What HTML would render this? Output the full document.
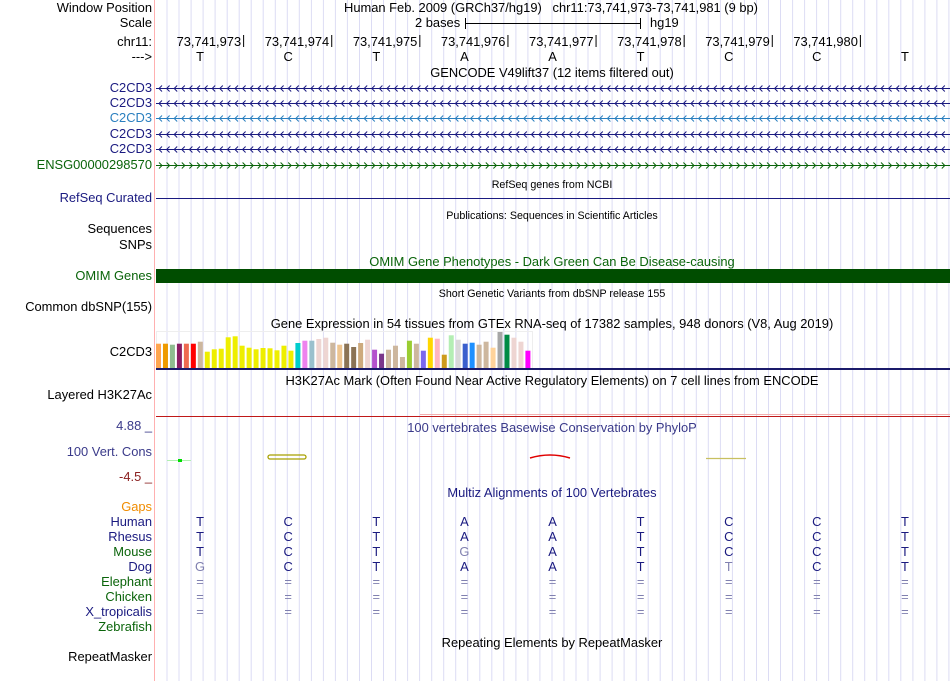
<!DOCTYPE html>
<html><head><meta charset="utf-8"><style>
body{margin:0;width:950px;height:681px;overflow:hidden;background:#fff;font-family:"Liberation Sans",sans-serif;}
#root{position:relative;width:950px;height:681px;overflow:hidden;}
.t{position:absolute;white-space:nowrap;font-size:12.9px;line-height:14px;}
.lab{position:absolute;right:798px;white-space:nowrap;font-size:12.9px;line-height:14px;text-align:right;}
.small{font-size:10.7px;}
.c{transform:translateX(-50%);}
</style></head><body>
<div id="root">
<svg id="grid" width="950" height="681" style="position:absolute;left:0;top:0"></svg>

<div class="lab" style="top:1px;color:#000">Window Position</div>
<div class="lab" style="top:16px">Scale</div>
<div class="lab" style="top:35px">chr11:</div>
<div class="lab" style="top:50px">---&gt;</div>
<div class="t c" style="left:551px;top:1px">Human Feb. 2009 (GRCh37/hg19) &nbsp;&nbsp;chr11:73,741,973-73,741,981 (9 bp)</div>
<div class="t" style="left:415px;top:16px">2 bases</div>
<div class="t" style="left:650px;top:16px">hg19</div>

<div class="t c" style="left:552px;top:66px">GENCODE V49lift37 (12 items filtered out)</div>
<div class="lab" style="top:81px;color:#1a1a80">C2CD3</div>
<div class="lab" style="top:96px;color:#1a1a80">C2CD3</div>
<div class="lab" style="top:111px;color:#2a7fbf">C2CD3</div>
<div class="lab" style="top:127px;color:#1a1a80">C2CD3</div>
<div class="lab" style="top:142px;color:#1a1a80">C2CD3</div>
<div class="lab" style="top:158px;color:#0a640a">ENSG00000298570</div>

<div class="t c small" style="left:552px;top:178px">RefSeq genes from NCBI</div>
<div class="lab" style="top:191px;color:#1a1a80">RefSeq Curated</div>
<div class="t c small" style="left:552px;top:209px">Publications: Sequences in Scientific Articles</div>
<div class="lab" style="top:222px">Sequences</div>
<div class="lab" style="top:238px">SNPs</div>
<div class="t c" style="left:552px;top:255px;color:#0a640a">OMIM Gene Phenotypes - Dark Green Can Be Disease-causing</div>
<div class="lab" style="top:269px;color:#0a640a">OMIM Genes</div>
<div style="position:absolute;left:156px;top:269px;width:794px;height:14px;background:#004d00"></div>
<div class="t c small" style="left:552px;top:287px">Short Genetic Variants from dbSNP release 155</div>
<div class="lab" style="top:300px">Common dbSNP(155)</div>
<div class="t c" style="left:552px;top:317px">Gene Expression in 54 tissues from GTEx RNA-seq of 17382 samples, 948 donors (V8, Aug 2019)</div>
<div class="lab" style="top:345px">C2CD3</div>
<div class="t c" style="left:552px;top:374px">H3K27Ac Mark (Often Found Near Active Regulatory Elements) on 7 cell lines from ENCODE</div>
<div class="lab" style="top:388px">Layered H3K27Ac</div>
<div class="lab" style="top:419px;color:#3a3a8a">4.88 _</div>
<div class="lab" style="top:445px;color:#3a3a8a">100 Vert. Cons</div>
<div class="lab" style="top:470px;color:#8b2020">-4.5 _</div>
<div class="t c" style="left:552px;top:421px;color:#3a3a8a">100 vertebrates Basewise Conservation by PhyloP</div>
<div class="t c" style="left:552px;top:486px;color:#1a1a80">Multiz Alignments of 100 Vertebrates</div>
<div class="lab" style="top:500px;color:#f08c00">Gaps</div>
<div id="species"></div>
<div class="t c" style="left:552px;top:636px">Repeating Elements by RepeatMasker</div>
<div class="lab" style="top:650px">RepeatMasker</div>
<svg id="fg" width="950" height="681" style="position:absolute;left:0;top:0"></svg>
</div>
<script>
const bases=['T','C','T','A','A','T','C','C','T'];
const positions=['73,741,973','73,741,974','73,741,975','73,741,976','73,741,977','73,741,978','73,741,979','73,741,980'];
const speciesNames=['Human','Rhesus','Mouse','Dog','Elephant','Chicken','X_tropicalis','Zebrafish'];
const speciesColors=['#1a1a80','#1a1a80','#0a640a','#1a1a80','#0a640a','#0a640a','#1a1a80','#0a640a'];
const mouseSeq=['T','C','T','G','A','T','C','C','T'];
const dogSeq=['G','C','T','A','A','T','T','C','T'];
const gtexValues=[24.3,24.3,23.3,24.3,24.3,24.3,26.3,16.3,18.7,19.3,30.7,31.7,22.3,20.3,18.7,20,19.7,17.7,22.3,17.3,25,27.3,27.3,29,30.3,25.3,23.3,24.3,21,25,28.3,18.3,14.3,18.3,22.3,11,27.3,24.3,17.3,30.3,29.3,13.3,32.7,28.3,24.3,25.3,23.3,26.3,20.3,36,33.3,30.3,26.3,17.3];
const gtexColors=['#FFA54F','#EE9A00','#8FBC8F','#8B1C62','#EE6A50','#FF0000','#CDB79E','#EEEE00','#EEEE00','#EEEE00','#EEEE00','#EEEE00','#EEEE00','#EEEE00','#EEEE00','#EEEE00','#EEEE00','#EEEE00','#EEEE00','#EEEE00','#00CDCD','#EE82EE','#9AC0CD','#EED5D2','#EED5D2','#CDB79E','#EEC591','#8B7355','#8B7355','#CDAA7D','#EED5D2','#B452CD','#7A378B','#CDB79E','#CDB79E','#CDB79E','#9ACD32','#CDB79E','#7A67EE','#FFD700','#FFB6C1','#CD9B1D','#B4EEB4','#D9D9D9','#3A5FCD','#1E90FF','#CDB79E','#CDB79E','#FFD39B','#A6A6A6','#008B45','#EED5D2','#EED5D2','#FF00FF'];
const NS='http://www.w3.org/2000/svg';
const L=156,R=949,bw=(R-L)/9;
const bx=i=>L+bw*(i+0.5);
function mk(p,tag,at){const e=document.createElementNS(NS,tag);for(const k in at)e.setAttribute(k,at[k]);p.appendChild(e);return e;}
const g=document.getElementById('grid'),f=document.getElementById('fg');
for(let x=167;x<950;x+=12.03){const l=mk(g,'line',{x1:x.toFixed(1),x2:x.toFixed(1),y1:0,y2:681,stroke:'#dcdcf4','stroke-width':1});

}
mk(g,'line',{x1:154.5,x2:154.5,y1:0,y2:681,stroke:'#ffb0b0','stroke-width':1});
mk(f,'line',{x1:465,x2:640,y1:23.5,y2:23.5,stroke:'#000'});
mk(f,'line',{x1:465.5,x2:465.5,y1:18,y2:29,stroke:'#000'});
mk(f,'line',{x1:640.5,x2:640.5,y1:18,y2:29,stroke:'#000'});
const root=document.getElementById('root');
positions.forEach((p,i)=>{const tx=L+bw*(i+1);
mk(f,'line',{x1:tx-0.5,x2:tx-0.5,y1:35,y2:47,stroke:'#000'});
const d=document.createElement('div');d.className='t';d.style.right=(950-tx+3)+'px';d.style.top='35px';d.textContent=p;


root.appendChild(d);});
bases.forEach((b,i)=>{const d=document.createElement('div');d.className='t c';d.style.left=bx(i)+'px';d.style.top='50px';d.textContent=b;


root.appendChild(d);});
const geneRows=[[88,'#1a1a80',-1],[103,'#1a1a80',-1],[118,'#2a7fbf',-1],[134,'#1a1a80',-1],[149,'#1a1a80',-1],[165,'#0a640a',1]];
geneRows.forEach(([y,c,dir])=>{const gg=mk(f,'g',{});


mk(gg,'line',{x1:L,x2:R+1,y1:y+.5,y2:y+.5,stroke:c});
let p='';for(let x=L+3;x<R;x+=7.6){if(dir<0)p+=`M${x+3},${y-2.5}L${x},${y+.5}L${x+3},${y+3.5}`;else p+=`M${x},${y-2.5}L${x+3},${y+.5}L${x},${y+3.5}`;}
mk(gg,'path',{d:p,stroke:c,fill:'none','stroke-width':1});});
mk(f,'line',{x1:L,x2:R+1,y1:198.5,y2:198.5,stroke:'#1a1a80'});
mk(f,'rect',{x:156.5,y:331.5,width:376,height:37,fill:'none',stroke:'#eeeeee'});
gtexValues.forEach((v,i)=>{const r=mk(f,'rect',{x:156+i*6.97,y:368-v,width:5,height:v,fill:gtexColors[i]});

});
mk(f,'rect',{x:156,y:368,width:794,height:2,fill:'#1a1a6a'});
mk(f,'line',{x1:156,x2:R+1,y1:416.5,y2:416.5,stroke:'#c01818'});
mk(f,'line',{x1:420,x2:R+1,y1:414.5,y2:414.5,stroke:'#f2b0b0'});
mk(f,'line',{x1:167,x2:191,y1:460.5,y2:460.5,stroke:'#b0f0b0'});
mk(f,'rect',{x:178,y:459,width:4,height:3,fill:'#00dd00'});
mk(f,'rect',{x:268,y:455,width:38,height:4,rx:2,fill:'none',stroke:'#a8a000','stroke-width':1.3});
mk(f,'path',{d:'M530,458 Q550,452 570,458',stroke:'#e00000',fill:'none','stroke-width':1.5});
mk(f,'line',{x1:706,x2:746,y1:458.5,y2:458.5,stroke:'#c8c060','stroke-width':1.3});
const sp=document.getElementById('species');
speciesNames.forEach((n,r)=>{const y=515+r*15;
const d=document.createElement('div');d.className='lab';d.style.top=y+'px';d.style.color=speciesColors[r];d.textContent=n;


sp.appendChild(d);
if(r===7)return;
bases.forEach((b,i)=>{let ch=b,col='#1a1a80';
if(r===2){ch=mouseSeq[i];if(ch!==b)col='#8080b0';}
if(r===3){ch=dogSeq[i];if(ch!==b)col='#8080b0';}
if(r>=4){ch='=';col='#8080b0';}
const e=document.createElement('div');e.className='t c';e.style.left=bx(i)+'px';e.style.top=y+'px';e.style.color=col;e.textContent=ch;


sp.appendChild(e);});});
</script>
</body></html>
